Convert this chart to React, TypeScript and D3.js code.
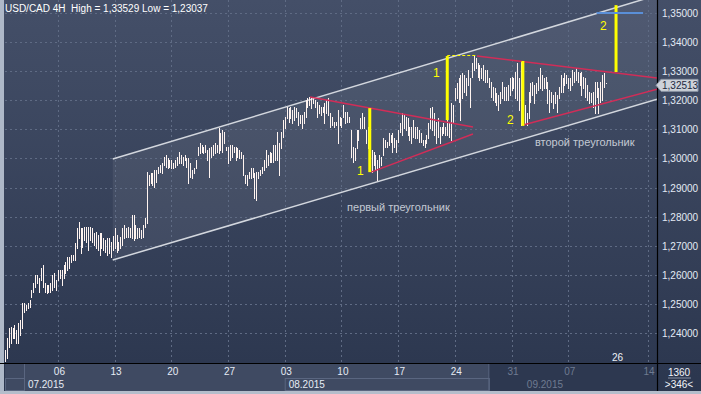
import React, { useEffect } from 'react';
import * as d3 from 'd3';

// ---- data (USD/CAD 4H, bar index 0 = first bar, ~29 Jun 2015) ----
const highs: number[] = [
  1.2341, 1.2383, 1.2417, 1.2421, 1.2417, 1.2427, 1.2410, 1.2434, 1.2445, 1.2503,
  1.2503, 1.2496, 1.2503, 1.2513, 1.2548, 1.2572, 1.2599, 1.2599, 1.2589, 1.2623,
  1.2634, 1.2572, 1.2565, 1.2565, 1.2572, 1.2599, 1.2606, 1.2582, 1.2616, 1.2616,
  1.2616, 1.2634, 1.2644, 1.2661, 1.2661, 1.2668, 1.2668, 1.2709, 1.2761, 1.2782,
  1.2761, 1.2761, 1.2764, 1.2764, 1.2764, 1.2764, 1.2761, 1.2744, 1.2747, 1.2737,
  1.2744, 1.2744, 1.2727, 1.2720, 1.2727, 1.2727, 1.2713, 1.2733, 1.2761, 1.2737,
  1.2713, 1.2730, 1.2761, 1.2771, 1.2761, 1.2764, 1.2761, 1.2806, 1.2806, 1.2771,
  1.2761, 1.2761, 1.2754, 1.2771, 1.2795, 1.2953,
  1.2943, 1.2950, 1.2950, 1.2960, 1.2960, 1.2971, 1.2977, 1.2984, 1.3005, 1.3012,
  1.3001, 1.2995, 1.2995, 1.2984, 1.2995, 1.3005, 1.3022, 1.3012, 1.3005, 1.3012,
  1.3001, 1.3001, 1.2984, 1.2960, 1.2967, 1.2995, 1.3039, 1.3053, 1.3046, 1.3039,
  1.3046, 1.3029, 1.3036, 1.3039, 1.3046, 1.3053, 1.3046, 1.3105, 1.3087, 1.3098,
  1.3091, 1.3039, 1.3039, 1.3046, 1.3046, 1.3039, 1.3039, 1.3036, 1.3029, 1.3022,
  1.3012, 1.2943, 1.2943, 1.2953, 1.2967, 1.2967, 1.2950, 1.2953, 1.2953, 1.2960,
  1.2971, 1.2995, 1.3029, 1.3012, 1.3022, 1.3019, 1.3046, 1.3046, 1.3091, 1.3053,
  1.3091, 1.3132, 1.3142, 1.3177, 1.3173, 1.3177, 1.3167, 1.3177, 1.3173, 1.3160,
  1.3149, 1.3149,
  1.3160, 1.3201, 1.3208, 1.3211, 1.3211, 1.3211, 1.3201, 1.3194, 1.3184, 1.3177,
  1.3177, 1.3191, 1.3201, 1.3208, 1.3156, 1.3142, 1.3125, 1.3125, 1.3167, 1.3142,
  1.3139, 1.3184, 1.3160, 1.3160, 1.3142, 1.3098, 1.3039, 1.3036, 1.3098, 1.3098,
  1.3139, 1.3156, 1.3142, 1.3098, 1.3108, 1.3132, 1.3029, 1.3022, 1.3012, 1.2995,
  1.3012, 1.3005, 1.3070, 1.3063, 1.3056, 1.3087, 1.3081, 1.3087, 1.3070, 1.3063,
  1.3098, 1.3122, 1.3156, 1.3149, 1.3142, 1.3139, 1.3108, 1.3108, 1.3132, 1.3108,
  1.3108, 1.3098, 1.3087, 1.3063, 1.3063, 1.3081, 1.3122, 1.3173, 1.3177, 1.3156,
  1.3125, 1.3139, 1.3108, 1.3108, 1.3122, 1.3108, 1.3184, 1.3122, 1.3191,
  1.3184, 1.3242, 1.3259, 1.3277, 1.3287, 1.3294, 1.3287, 1.3277, 1.3304, 1.3277,
  1.3328, 1.3353, 1.3345, 1.3328, 1.3321, 1.3311, 1.3321, 1.3304, 1.3304, 1.3277,
  1.3263, 1.3246, 1.3242, 1.3225, 1.3218, 1.3228, 1.3263, 1.3246, 1.3246, 1.3252,
  1.3277, 1.3280, 1.3277, 1.3297, 1.3328, 1.3277, 1.3335, 1.3218, 1.3184, 1.3156,
  1.3228, 1.3259, 1.3263, 1.3252, 1.3259, 1.3280, 1.3311, 1.3287, 1.3277, 1.3280,
  1.3263, 1.3235, 1.3228, 1.3218, 1.3228, 1.3218, 1.3246, 1.3287, 1.3277, 1.3294,
  1.3287, 1.3277, 1.3277, 1.3304, 1.3297, 1.3311, 1.3297, 1.3294, 1.3297, 1.3280,
  1.3277, 1.3252, 1.3228, 1.3225, 1.3228, 1.3263, 1.3263, 1.3242, 1.3263, 1.3287,
  1.3294, 1.3256,
];

const lows: number[] = [
  1.2304, 1.2314, 1.2352, 1.2366, 1.2383, 1.2383, 1.2366, 1.2366, 1.2393, 1.2417,
  1.2472, 1.2479, 1.2486, 1.2489, 1.2524, 1.2541, 1.2558, 1.2572, 1.2541, 1.2582,
  1.2558, 1.2541, 1.2537, 1.2541, 1.2541, 1.2548, 1.2558, 1.2548, 1.2582, 1.2589,
  1.2565, 1.2589, 1.2606, 1.2616, 1.2623, 1.2644, 1.2651, 1.2651, 1.2692, 1.2727,
  1.2675, 1.2696, 1.2720, 1.2713, 1.2685, 1.2720, 1.2713, 1.2702, 1.2692, 1.2685,
  1.2668, 1.2692, 1.2685, 1.2678, 1.2668, 1.2675, 1.2661, 1.2685, 1.2692, 1.2678,
  1.2685, 1.2692, 1.2702, 1.2727, 1.2730, 1.2730, 1.2730, 1.2727, 1.2720, 1.2727,
  1.2727, 1.2730, 1.2727, 1.2730, 1.2764, 1.2778,
  1.2909, 1.2916, 1.2909, 1.2902, 1.2919, 1.2950, 1.2953, 1.2950, 1.2977, 1.2971,
  1.2967, 1.2971, 1.2967, 1.2967, 1.2971, 1.2977, 1.2984, 1.2984, 1.2977, 1.2995,
  1.2971, 1.2916, 1.2936, 1.2933, 1.2950, 1.2967, 1.3012, 1.3019, 1.3022, 1.3019,
  1.3022, 1.2995, 1.2936, 1.3005, 1.3012, 1.3019, 1.3022, 1.3019, 1.3029, 1.3022,
  1.3053, 1.3029, 1.2984, 1.2995, 1.3005, 1.3022, 1.2995, 1.3005, 1.3001, 1.3001,
  1.2943, 1.2916, 1.2909, 1.2933, 1.2933, 1.2936, 1.2864, 1.2857, 1.2933, 1.2943,
  1.2950, 1.2960, 1.2971, 1.2977, 1.2988, 1.2988, 1.2988, 1.2995, 1.2995, 1.2943,
  1.3036, 1.3074, 1.3105, 1.3139, 1.3125, 1.3139, 1.3122, 1.3132, 1.3142, 1.3115,
  1.3122, 1.3105,
  1.3122, 1.3142, 1.3177, 1.3184, 1.3173, 1.3191, 1.3177, 1.3142, 1.3156, 1.3149,
  1.3160, 1.3122, 1.3156, 1.3149, 1.3108, 1.3115, 1.3108, 1.3115, 1.3053, 1.3115,
  1.3108, 1.3142, 1.3122, 1.3125, 1.3125, 1.3005, 1.2988, 1.2995, 1.3036, 1.3063,
  1.3105, 1.3105, 1.3105, 1.3053, 1.3036, 1.2967, 1.2953, 1.2977, 1.2960, 1.2926,
  1.2971, 1.2977, 1.3012, 1.3039, 1.3039, 1.3046, 1.3056, 1.3022, 1.3039, 1.3022,
  1.3056, 1.3091, 1.3081, 1.3105, 1.3098, 1.3081, 1.3063, 1.3053, 1.3074, 1.3070,
  1.3070, 1.3056, 1.3056, 1.3046, 1.3039, 1.3053, 1.3070, 1.3105, 1.3098, 1.3081,
  1.3053, 1.3074, 1.3053, 1.3081, 1.3087, 1.3081, 1.3081, 1.3074, 1.3063,
  1.3125, 1.3201, 1.3208, 1.3194, 1.3132, 1.3208, 1.3228, 1.3218, 1.3252, 1.3177,
  1.3280, 1.3304, 1.3311, 1.3280, 1.3270, 1.3277, 1.3270, 1.3263, 1.3263, 1.3246,
  1.3211, 1.3201, 1.3194, 1.3184, 1.3167, 1.3191, 1.3208, 1.3201, 1.3201, 1.3201,
  1.3218, 1.3235, 1.3242, 1.3208, 1.3201, 1.3167, 1.3115, 1.3132, 1.3122, 1.3115,
  1.3139, 1.3194, 1.3218, 1.3191, 1.3225, 1.3235, 1.3242, 1.3235, 1.3242, 1.3242,
  1.3191, 1.3160, 1.3194, 1.3173, 1.3191, 1.3160, 1.3208, 1.3228, 1.3228, 1.3252,
  1.3259, 1.3242, 1.3235, 1.3252, 1.3263, 1.3270, 1.3263, 1.3252, 1.3218, 1.3242,
  1.3211, 1.3201, 1.3191, 1.3194, 1.3177, 1.3156, 1.3211, 1.3156, 1.3194, 1.3201,
  1.3246, 1.3263, 1.3246,
].slice(0, 319);

const lastPrice = 1.32513;
const priceTicks = [1.24, 1.25, 1.26, 1.27, 1.28, 1.29, 1.3, 1.31, 1.32, 1.33, 1.34, 1.35];
const dayTickIndex = [28, 58, 88, 118, 148, 178, 208, 238, 268, 298, 340];
const dayTickLabels = ['06', '13', '20', '27', '03', '10', '17', '24', '31', '07', '14'];
const monthStartIndex = [10, 148, 274];
const monthLabels = ['07.2015', '08.2015', '09.2015'];
const shadeStartIndex = 256; // time-axis darker zone begins here

// drawn objects (bar index, price)
const channelUpper: [number, number][] = [[57, 1.2998], [345, 1.3561]];
const channelLower: [number, number][] = [[57, 1.2651], [345, 1.3204]];
const tri1Upper: [number, number][] = [[161.4, 1.3211], [247.6, 1.3108]];
const tri1Lower: [number, number][] = [[193.7, 1.2953], [247.6, 1.3084]];
const tri2Upper: [number, number][] = [[249.7, 1.3352], [345.5, 1.3276]];
const tri2Lower: [number, number][] = [[274.1, 1.3115], [345.5, 1.3239]];
const yellowBars: [number, number, number][] = [
  [193, 1.3173, 1.2953],
  [234, 1.3352, 1.3132],
  [274, 1.3335, 1.3112],
  [323.3, 1.3527, 1.3297],
];
const yellowDash: [number, number][] = [[234, 1.3354], [249.7, 1.3354]];
const blueLevel: [number, number][] = [[313, 1.35], [337.6, 1.35]];
const markLabels = ['1', '1', '2', '2'];
const markPos: [number, number][] = [[186.2, 1.2943], [226.5, 1.3280], [265.6, 1.3118], [314.8, 1.3442]];
const noteLabels = ['первый треугольник', 'второй треугольник'];
const notePos: [number, number][] = [[181, 1.2819], [280.4, 1.3043]];

const FONT = "'Liberation Sans', Arial, sans-serif";

export default function App() {
  useEffect(() => {
    document.body.style.margin = '0';
  }, []);

  const W = 701;
  const H = 394;
  const plotL = 5, plotR = 657, plotT = 0, plotB = 363;

  const x = d3.scaleLinear().domain([0, 340]).range([5, 647.6]);
  const y = d3.scaleLinear().domain([1.23, 1.35]).range([362.1, 13]);
  const line = d3.line<[number, number]>().x(d => x(d[0])).y(d => y(d[1]));
  const fmt = (p: number) => d3.format('.5f')(p).replace('.', ',');

  const channelPoly = [...channelUpper, ...channelLower.slice().reverse()];
  const shadeX = x(shadeStartIndex);
  const ly = y(lastPrice);

  return (
    <svg width={W} height={H} style={{ display: 'block', position: 'absolute', left: 0, top: 0 }} fontFamily={FONT}>
      <defs>
        <linearGradient id="bg" x1="0" y1="0" x2="0" y2="1">
          <stop offset="0" stopColor="#444f68" />
          <stop offset="1" stopColor="#2b364e" />
        </linearGradient>
        <clipPath id="plotClip">
          <rect x={plotL} y={plotT} width={plotR - plotL} height={plotB - plotT} />
        </clipPath>
      </defs>
      <rect x={0} y={0} width={W} height={H} fill="url(#bg)" />

      <g clipPath="url(#plotClip)">
        {/* channel fill */}
        <path d={line(channelPoly as [number, number][]) + 'Z'} fill="#ffffff" fillOpacity={0.065} />
        {/* grid */}
        {priceTicks.map(p => (
          <line key={'h' + p} x1={plotL} x2={plotR} y1={Math.round(y(p)) + 0.5} y2={Math.round(y(p)) + 0.5}
            stroke="#5f6b84" strokeDasharray="2,3" strokeWidth={1} />
        ))}
        {dayTickIndex.map(i => (
          <line key={'v' + i} x1={Math.round(x(i)) + 0.5} x2={Math.round(x(i)) + 0.5} y1={plotT} y2={plotB}
            stroke="#5f6b84" strokeDasharray="2,3" strokeWidth={1} />
        ))}
        {/* channel lines */}
        <path d={line(channelUpper) || ''} stroke="#d3d7de" strokeWidth={1.5} fill="none" />
        <path d={line(channelLower) || ''} stroke="#d3d7de" strokeWidth={1.5} fill="none" />
        {/* price bars */}
        {highs.map((h, i) => (
          <line key={'b' + i} x1={Math.round(x(i)) + 0.5} x2={Math.round(x(i)) + 0.5}
            y1={Math.round(y(h))} y2={Math.round(y(lows[i])) + 1}
            stroke="#fff4f0" strokeWidth={1} shapeRendering="crispEdges" />
        ))}
        {/* triangles */}
        {[tri1Upper, tri1Lower, tri2Upper, tri2Lower].map((t, k) => (
          <path key={'t' + k} d={line(t) || ''} stroke="#d12d58" strokeWidth={1.5} fill="none" />
        ))}
        {/* yellow measures */}
        {yellowBars.map((b, k) => (
          <line key={'y' + k} x1={x(b[0])} x2={x(b[0])} y1={y(b[1])} y2={y(b[2])} stroke="#ffff00" strokeWidth={3} />
        ))}
        <path d={line(yellowDash) || ''} stroke="#ffff00" strokeWidth={1} strokeDasharray="3,2" fill="none" />
        <path d={line(blueLevel) || ''} stroke="#5a8fd8" strokeWidth={2} fill="none" />
        {markLabels.map((t, k) => (
          <text key={'m' + k} x={x(markPos[k][0])} y={y(markPos[k][1])} fill="#ffff00" fontSize={12}>{t}</text>
        ))}
        {noteLabels.map((t, k) => (
          <text key={'n' + k} x={x(notePos[k][0])} y={y(notePos[k][1])} fill="#c3c9d3" fontSize={11}>{t}</text>
        ))}
        <text x={612} y={361} fill="#eef2f8" fontSize={10}>26</text>
      </g>

      {/* title */}
      <text x={5} y={12} fill="#ffffff" fontSize={10} style={{ whiteSpace: 'pre' }}>USD/CAD 4H  High = 1,33529 Low = 1,23037</text>

      {/* left and bottom frame */}
      <rect x={0} y={0} width={4} height={H} fill="#aeb8c8" />
      <rect x={0} y={391} width={W} height={3} fill="#b4bdcb" />

      {/* time axis */}
      <rect x={plotL} y={364} width={shadeX - plotL} height={27} fill="#3f4a62" />
      <rect x={shadeX} y={364} width={plotR - shadeX} height={27} fill="#2d3850" />
      <line x1={shadeX} x2={shadeX} y1={364} y2={391} stroke="#5a6680" />
      <line x1={24.5} x2={24.5} y1={364} y2={391} stroke="#5a6680" />
      <rect x={plotL + 0.5} y={378.5} width={19} height={12} fill="none" stroke="#5a6680" />
      <rect x={x(monthStartIndex[1]) + 0.5} y={378.5} width={shadeX - x(monthStartIndex[1])} height={12} fill="none" stroke="#5a6680" />
      {dayTickIndex.map((i, k) => (
        <text key={'d' + i} x={x(i) + 1.5} y={375} textAnchor="middle" fontSize={10}
          fill={i >= shadeStartIndex ? '#6f7b91' : '#e6ecf5'}>{dayTickLabels[k]}</text>
      ))}
      {monthStartIndex.map((i, k) => (
        <text key={'mo' + i} x={x(i) + 4} y={388} fontSize={10}
          fill={i >= shadeStartIndex ? '#6f7b91' : '#e6ecf5'}>{monthLabels[k]}</text>
      ))}

      {/* separators */}
      <line x1={0} x2={W} y1={363.5} y2={363.5} stroke="#000000" strokeWidth={1.2} />
      <line x1={657.5} x2={657.5} y1={0} y2={391} stroke="#000000" strokeWidth={1.2} />

      {/* price axis */}
      {priceTicks.map(p => (
        <text key={'p' + p} x={662} y={y(p) + 4} fontSize={10} fill="#e3eaf4">{fmt(p)}</text>
      ))}
      <path d={`M${plotR - 1},${ly} L${plotR + 4},${ly - 6} L${W - 3},${ly - 6} L${W - 3},${ly + 6} L${plotR + 4},${ly + 6} Z`}
        fill="#cdd2da" stroke="#8d96a6" strokeWidth={1} />
      <text x={662} y={ly + 4} fontSize={10} fill="#1d2940">{fmt(lastPrice)}</text>
      <text x={679} y={376} textAnchor="middle" fontSize={10} fill="#f2f5fa">1360</text>
      <line x1={668} x2={691} y1={378} y2={378} stroke="#8590a3" />
      <text x={679} y={388} textAnchor="middle" fontSize={10} fill="#f2f5fa">{'>346<'}</text>
    </svg>
  );
}
